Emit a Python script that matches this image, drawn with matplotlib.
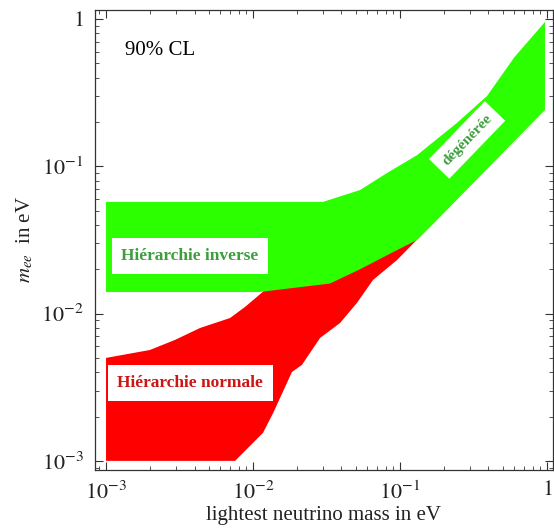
import matplotlib
matplotlib.use("Agg")
import matplotlib.pyplot as plt
from matplotlib.ticker import LogLocator, FixedLocator, FixedFormatter, NullFormatter

plt.rcParams['font.family'] = ['Liberation Serif', 'DejaVu Serif']
plt.rcParams['mathtext.fontset'] = 'stix'

# Inverted hierarchy / degenerate band (green): upper and lower edges
green_top_x = [0.001, 0.0299, 0.0535, 0.0816, 0.1306, 0.244, 0.391, 0.60, 0.969]
green_top_y = [0.0573, 0.0573, 0.069, 0.090, 0.119, 0.197, 0.30, 0.55, 0.955]
green_bot_x = [0.001, 0.0110, 0.0334, 0.0535, 0.0855, 0.1306, 0.1786, 0.969]
green_bot_y = [0.0140, 0.0140, 0.0160, 0.0200, 0.0255, 0.0316, 0.0432, 0.241]

# Normal hierarchy band (red): upper and lower edges
red_top_x = [0.001, 0.00199, 0.00294, 0.00436, 0.00698, 0.00883, 0.01065, 0.0121, 0.0334, 0.0535, 0.0855, 0.1306, 0.18]
red_top_y = [0.0050, 0.00566, 0.00662, 0.00798, 0.00933, 0.0111, 0.0130, 0.0145, 0.0185, 0.0228, 0.0285, 0.0350, 0.0440]
red_bot_x = [0.001, 0.00755, 0.0117, 0.0137, 0.0184, 0.0215, 0.0286, 0.0391, 0.0509, 0.0655, 0.0955, 0.18]
red_bot_y = [0.001, 0.001, 0.00155, 0.00211, 0.00401, 0.00448, 0.00683, 0.00863, 0.0118, 0.0169, 0.0231, 0.0440]

major_ticks = [1e-3, 1e-2, 1e-1, 1]
major_labels = [r'$10^{-3}$', r'$10^{-2}$', r'$10^{-1}$', r'$1$']

fig = plt.figure(figsize=(5.54, 5.29), dpi=100)
ax = fig.add_axes([95/554, 59/529, 458/554, 460/529])
ax.set_xscale('log')
ax.set_yscale('log')
ax.set_xlim(10**-3.075, 10**0.041)
ax.set_ylim(10**-3.062, 10**0.061)

green = '#2cff00'
red = '#ff0000'

ax.fill(red_top_x + red_bot_x[::-1], red_top_y + red_bot_y[::-1], color=red, lw=0, zorder=1)
ax.fill(green_top_x + green_bot_x[::-1], green_top_y + green_bot_y[::-1], color=green, lw=0, zorder=2)

ax.text(0.00373, 0.0246, 'Hiérarchie inverse', color='#3d9e3d', fontsize=12.5,
        fontweight='bold', ha='center', va='center', zorder=5,
        bbox=dict(boxstyle='square,pad=0.55', fc='white', ec='none'))
ax.text(0.00373, 0.00338, 'Hiérarchie normale', color='#cc1515', fontsize=12.5,
        fontweight='bold', ha='center', va='center', zorder=5,
        bbox=dict(boxstyle='square,pad=0.55', fc='white', ec='none'))
ax.text(0.286, 0.151, 'dégénérée', color='#3d9e3d', fontsize=11,
        fontweight='bold', ha='center', va='center', rotation=46, zorder=5,
        rotation_mode='anchor',
        bbox=dict(boxstyle='square,pad=0.5', fc='white', ec='none'))
ax.text(0.0655, 0.913, '90% CL', transform=ax.transAxes, fontsize=15,
        ha='left', va='center')

ax.xaxis.set_major_locator(FixedLocator(major_ticks))
ax.xaxis.set_major_formatter(FixedFormatter(major_labels))
ax.yaxis.set_major_locator(FixedLocator(major_ticks))
ax.yaxis.set_major_formatter(FixedFormatter(major_labels))
ax.xaxis.set_minor_locator(LogLocator(base=10, subs=range(2, 10), numticks=20))
ax.yaxis.set_minor_locator(LogLocator(base=10, subs=range(2, 10), numticks=20))
ax.xaxis.set_minor_formatter(NullFormatter())
ax.yaxis.set_minor_formatter(NullFormatter())
ax.tick_params(which='both', direction='in', top=True, right=True, colors='#333333',
               labelcolor='#222222', labelsize=16)
ax.tick_params(which='major', length=6, width=0.8, pad=8)
ax.tick_params(which='minor', length=3, width=0.6)
for s in ax.spines.values():
    s.set_color('#333333')
    s.set_linewidth(0.9)

ax.set_xlabel('lightest neutrino mass in eV', fontsize=15, color='#222222', labelpad=2)
ax.set_ylabel(r'$m_{ee}$  in eV', fontsize=15, color='#222222', labelpad=4)

fig.savefig('out.png', dpi=100)
